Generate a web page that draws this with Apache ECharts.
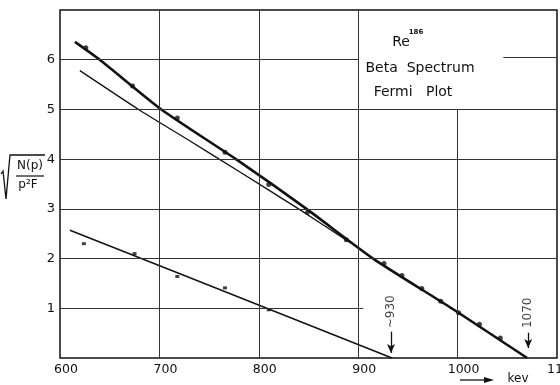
<!DOCTYPE html>
<html>
<head>
<meta charset="utf-8">
<script src="https://cdn.jsdelivr.net/npm/echarts@6/dist/echarts.min.js"></script>
<style>
  html, body { margin: 0; padding: 0; background: #fff; }
  #fermi_chart { width: 560px; height: 385px; }
</style>
</head>
<body>
<div id="fermi_chart"></div>
<script>
// Re-186 beta spectrum, Fermi plot
var fitKeV = [615, 640, 702, 777, 848, 915, 994, 1070];
var fitVal = [6.36, 6, 5, 4, 3, 2, 1, 0];
var dotKeV = [626, 673, 718, 766, 810, 849, 888, 926, 944, 964, 983, 1001, 1022, 1043];
var dotVal = [6.24, 5.47, 4.83, 4.14, 3.49, 2.93, 2.38, 1.90, 1.66, 1.40, 1.14, 0.91, 0.68, 0.40];
var thinKeV = [620, 679, 728, 781, 840, 892];
var thinVal = [5.78, 5, 4.4, 3.74, 3, 2.32];
var lowKeV = [610, 720, 934];
var lowVal = [2.57, 1.70, 0];
var crossKeV = [624, 675, 718, 766, 810];
var crossVal = [2.30, 2.10, 1.64, 1.41, 0.97];
var endKeV = [933, 1071];
var endLabels = ['~930', '1070'];
var endLabelVal = [0.93, 0.91];
var arrowFrom = [0.53, 0.51];
var arrowTo = [0.10, 0.20];
// grid segments: [value, from, to]
var gridH = [[1, 600, 905], [2, 600, 1100], [3, 600, 1100], [4, 600, 1100], [5, 600, 1100], [6, 600, 900], [6.04, 1046, 1100]];
var gridV = [[700, 0, 7], [800, 0, 7], [900, 0, 7], [1000, 0, 5]];

function zip(a, b) {
    var out = [];
    for (var i = 0; i < a.length; i++) out.push([a[i], b[i]]);
    return out;
}

var gridLines = [];
gridH.forEach(function (g) {
    gridLines.push([{coord: [g[1], g[0]]}, {coord: [g[2], g[0]]}]);
});
gridV.forEach(function (g) {
    gridLines.push([{coord: [g[0], g[1]]}, {coord: [g[0], g[2]]}]);
});

var arrows = [];
for (var i = 0; i < endKeV.length; i++) {
    arrows.push([{coord: [endKeV[i], arrowFrom[i]]}, {coord: [endKeV[i], arrowTo[i]]}]);
}

var FONT = 'DejaVu Sans';

var options = {
    animation: false,
    backgroundColor: '#fff',
    grid: {
        left: 60, top: 10, right: 3, bottom: 27,
        outerBoundsMode: 'none', containLabel: false,
        show: true, borderColor: '#111', borderWidth: 1.5
    },
    xAxis: {
        type: 'value', min: 600, max: 1100, interval: 100,
        axisLine: {show: false}, axisTick: {show: false}, splitLine: {show: false},
        axisLabel: {
            color: '#111', fontFamily: FONT, fontSize: 12.5, margin: 5, padding: [0, 0, 0, 12],
            formatter: function (v) { return String(v); }
        }
    },
    yAxis: {
        type: 'value', min: 0, max: 7, interval: 1,
        axisLine: {show: false}, axisTick: {show: false}, splitLine: {show: false},
        axisLabel: {
            color: '#111', fontFamily: FONT, fontSize: 13, margin: 5,
            formatter: function (v) { return (v === 0 || v === 7) ? '' : String(v); }
        }
    },
    graphic: [
        // y axis title: sqrt(N(p) / p^2 F)
        {type: 'polyline', shape: {points: [[1, 174], [3, 171], [6, 199], [10, 155], [45, 155]]},
            style: {stroke: '#111', lineWidth: 1.3, fill: null}},
        {type: 'line', shape: {x1: 16, y1: 176, x2: 44, y2: 176}, style: {stroke: '#111', lineWidth: 1.2}},
        {type: 'text', x: 30, y: 166, style: {text: 'N(p)', font: '12px ' + FONT, fill: '#111', align: 'center', verticalAlign: 'middle'}},
        {type: 'text', x: 28, y: 185, style: {text: 'p²F', font: '12px ' + FONT, fill: '#111', align: 'center', verticalAlign: 'middle'}},
        // title box
        {type: 'text', x: 401, y: 42, style: {text: 'Re', font: '14px ' + FONT, fill: '#111', align: 'center', verticalAlign: 'middle'}},
        {type: 'text', x: 416, y: 32, style: {text: '186', font: 'bold 7px ' + FONT, fill: '#111', align: 'center', verticalAlign: 'middle'}},
        {type: 'text', x: 420, y: 68, style: {text: 'Beta  Spectrum', font: '14px ' + FONT, fill: '#111', align: 'center', verticalAlign: 'middle'}},
        {type: 'text', x: 413, y: 92, style: {text: 'Fermi   Plot', font: '14px ' + FONT, fill: '#111', align: 'center', verticalAlign: 'middle'}},
        // kev arrow under the axis
        {type: 'line', shape: {x1: 460, y1: 380, x2: 489, y2: 380}, style: {stroke: '#111', lineWidth: 1.3}},
        {type: 'polygon', shape: {points: [[484, 377], [494, 380], [484, 383]]}, style: {fill: '#111'}},
        {type: 'text', x: 518, y: 379, style: {text: 'kev', font: '12px ' + FONT, fill: '#111', align: 'center', verticalAlign: 'middle'}}
    ],
    series: [
        {
            name: 'grid', type: 'line', data: [], silent: true, z: 1,
            markLine: {
                silent: true, symbol: ['none', 'none'], label: {show: false},
                lineStyle: {color: '#333', width: 1, type: 'solid'},
                data: gridLines
            }
        },
        {
            name: 'fit', type: 'line', data: zip(fitKeV, fitVal), showSymbol: false, smooth: 0.2,
            lineStyle: {color: '#111', width: 2.6}, z: 3
        },
        {
            name: 'points', type: 'scatter', data: zip(dotKeV, dotVal), symbol: 'circle', symbolSize: 5,
            itemStyle: {color: '#111'}, z: 4
        },
        {
            name: 'thin', type: 'line', data: zip(thinKeV, thinVal), showSymbol: false, smooth: 0.2,
            lineStyle: {color: '#111', width: 1.3}, z: 3
        },
        {
            name: 'low', type: 'line', data: zip(lowKeV, lowVal), showSymbol: false,
            lineStyle: {color: '#111', width: 1.4}, z: 3,
            markLine: {
                silent: true, symbol: ['none', 'arrow'], symbolSize: [6, 9], label: {show: false},
                lineStyle: {color: '#111', width: 1.3, type: 'solid'},
                data: arrows
            }
        },
        {
            name: 'cross', type: 'scatter', data: zip(crossKeV, crossVal), symbol: 'rect', symbolSize: [4, 3],
            itemStyle: {color: '#111'}, z: 4
        },
        {
            name: 'ends', type: 'scatter', data: zip(endKeV, endLabelVal), symbolSize: 0, z: 4,
            label: {
                show: true, position: 'inside', rotate: 90, color: '#111', fontFamily: FONT, fontSize: 12,
                formatter: function (p) { return endLabels[p.dataIndex]; }
            }
        }
    ]
};

var chart = echarts.init(document.getElementById('fermi_chart'));
chart.setOption(options);
</script>
</body>
</html>
